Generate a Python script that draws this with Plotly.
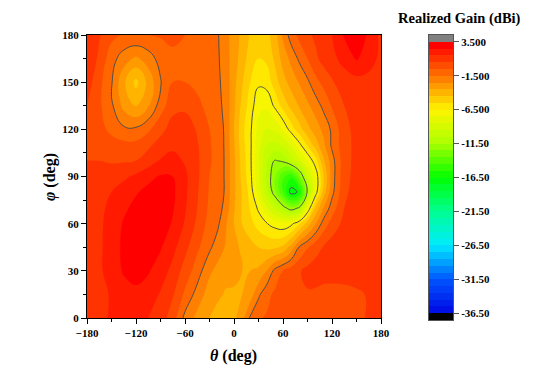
import plotly.graph_objects as go

# ---------------- data ----------------
THETA = [-180, -165, -150, -135, -120, -105, -90, -75, -60, -45, -30,
         -20, -10, 0, 10, 20, 30, 40, 50, 60, 70, 80, 90, 100, 110, 120,
         135, 150, 165, 180]
PHI = [0, 15, 30, 45, 60, 70, 80, 90, 100, 110, 120, 135, 150, 165, 180]

# realized gain (dBi), one row per PHI value, columns follow THETA
GAIN_PHI_0 = [1.0, 1.3, 1.6, 1.7, 1.8, 1.5, 1.0, 0.0, -1.8, -2.8, -3.5,
              -3.9, -4.0, -3.7, -2.9, -1.3, -0.6, -0.4, -0.3, -0.2, -0.1, 0.0, 0.0, 0.0, -0.1, -0.2,
              -0.1, 0.3, 0.6, 0.8]
GAIN_PHI_15 = [1.0, 1.2, 1.6, 2.1, 2.3, 2.0, 1.4, 0.6, -0.7, -1.9, -3.0,
               -3.3, -3.6, -3.6, -3.5, -3.0, -1.7, -0.8, -0.3, 0.1, 0.3, 0.4, 0.4, 0.3, 0.1, 0.0,
               0.0, 0.3, 0.6, 0.8]
GAIN_PHI_30 = [1.0, 1.3, 2.0, 2.6, 2.8, 2.6, 2.0, 1.2, 0.1, -1.0, -2.3,
               -2.8, -3.2, -3.3, -3.5, -3.5, -3.3, -2.5, -1.2, -0.5, 0.0, 0.4, 0.8, 1.0, 1.0, 1.1,
               1.2, 1.1, 1.0, 1.0]
GAIN_PHI_45 = [1.0, 1.3, 2.0, 2.7, 3.1, 3.1, 2.6, 1.8, 0.8, -0.3, -1.3,
               -2.0, -2.6, -3.2, -3.7, -4.1, -4.5, -4.7, -4.7, -4.3, -3.1, -1.4, -0.6, 0.1, 0.6, 1.0,
               1.3, 1.3, 1.2, 1.0]
GAIN_PHI_60 = [0.9, 1.3, 1.9, 2.6, 3.1, 3.2, 3.0, 2.4, 1.4, 0.3, -0.9,
               -1.3, -2.4, -3.5, -4.5, -5.2, -5.9, -6.45, -6.9, -7.2, -6.8, -5.6, -4.0, -2.5, -1.0, -0.1,
               0.8, 1.1, 1.1, 0.9]
GAIN_PHI_70 = [0.85, 1.2, 1.8, 2.3, 2.8, 3.1, 3.1, 2.6, 1.6, 0.5, -0.7,
               -1.0, -1.9, -3.4, -4.6, -5.6, -6.7, -8.3, -9.8, -11.0, -12.2, -11.3, -7.5, -4.3, -2.4, -1.0,
               0.5, 0.9, 1.0, 0.9]
GAIN_PHI_80 = [0.7, 1.0, 1.5, 2.0, 2.4, 2.8, 3.0, 2.7, 1.7, 0.6, -0.6,
               -0.8, -1.7, -3.3, -4.6, -5.9, -7.9, -10.2, -12.1, -14.5, -17.0, -16.3, -11.2, -7.0, -3.9, -1.8,
               0.3, 0.9, 1.0, 0.9]
GAIN_PHI_90 = [0.6, 0.8, 1.0, 1.3, 1.7, 2.2, 2.6, 2.5, 1.7, 0.7, -0.5,
               -0.8, -1.7, -3.3, -4.8, -6.2, -8.3, -10.6, -12.4, -14.3, -15.3, -13.0, -9.6, -7.2, -4.4, -2.0,
               0.2, 0.8, 1.0, 0.8]
GAIN_PHI_100 = [0.5, 0.5, 0.4, 0.4, 0.5, 1.0, 1.6, 1.8, 1.4, 0.7, -0.4,
                -0.8, -1.7, -3.3, -4.9, -6.3, -8.4, -10.3, -11.6, -11.3, -10.2, -8.9, -7.4, -5.9, -3.6, -1.9,
                0.1, 0.8, 1.0, 0.8]
GAIN_PHI_110 = [0.5, 0.3, 0.0, -0.2, -0.2, 0.3, 0.9, 1.3, 1.2, 0.6, -0.4,
                -0.9, -1.7, -3.4, -5.1, -6.3, -8.2, -9.5, -9.8, -9.4, -8.3, -6.8, -5.4, -4.0, -2.7, -1.3,
                0.1, 0.8, 1.0, 0.9]
GAIN_PHI_120 = [0.3, -0.1, -0.8, -1.3, -1.3, -0.7, 0.2, 0.9, 1.0, 0.4, -0.5,
                -1.0, -1.7, -3.5, -5.2, -6.3, -7.9, -8.6, -8.3, -7.4, -6.0, -4.9, -3.8, -3.0, -2.2, -1.3,
                0.2, 0.8, 1.0, 1.0]
GAIN_PHI_135 = [0.5, -0.3, -1.3, -2.8, -3.6, -2.6, -1.0, 0.2, 0.3, -0.2, -0.9,
                -1.2, -1.8, -3.3, -4.8, -6.0, -7.2, -7.3, -6.3, -5.1, -4.2, -3.4, -2.7, -2.0, -1.2, -0.4,
                0.5, 1.0, 1.1, 1.0]
GAIN_PHI_150 = [1.0, -0.2, -1.4, -3.3, -4.8, -3.2, -1.6, -0.5, -0.5, -0.8, -1.1,
                -1.3, -1.9, -3.2, -4.4, -5.5, -6.3, -6.1, -5.0, -3.9, -3.1, -2.4, -1.7, -0.8, -0.2, 0.4,
                0.9, 1.1, 1.1, 1.0]
GAIN_PHI_165 = [1.3, 0.3, -1.1, -2.0, -2.7, -2.0, -1.1, -0.6, -0.6, -0.9, -1.2,
                -1.35, -2.1, -3.0, -4.0, -5.0, -5.5, -5.3, -4.3, -3.1, -2.2, -1.3, -0.5, 0.3, 0.9, 1.2,
                1.9, 2.6, 2.0, 1.2]
GAIN_PHI_180 = [1.5, 0.6, -0.2, -0.6, -0.5, -0.5, -0.4, -0.4, -0.5, -0.8, -1.1,
                -1.4, -2.2, -2.9, -3.8, -4.6, -4.9, -4.8, -4.0, -2.3, -1.0, -0.2, 0.3, 0.7, 1.1, 1.5,
                2.6, 2.9, 2.4, 1.2]

GAIN = [GAIN_PHI_0, GAIN_PHI_15, GAIN_PHI_30, GAIN_PHI_45, GAIN_PHI_60,
        GAIN_PHI_70, GAIN_PHI_80, GAIN_PHI_90, GAIN_PHI_100, GAIN_PHI_110,
        GAIN_PHI_120, GAIN_PHI_135, GAIN_PHI_150, GAIN_PHI_165, GAIN_PHI_180]

X_TICK0, X_DTICK, X_MINOR = -180, 60, 30
Y_TICK0, Y_DTICK, Y_MINOR = 0, 30, 15
CBAR_TICKS = [3.5, -1.5, -6.5, -11.5, -16.5, -21.5, -26.5, -31.5, -36.5]
CBAR_TICKTEXT = ["3.500", "-1.500", "-6.500", "-11.50", "-16.50",
                 "-21.50", "-26.50", "-31.50", "-36.50"]

FILL_START, FILL_END, FILL_STEP = -36.5, 3.5, 1.0
LINE_START, LINE_END, LINE_STEP = -16.5, -1.5, 5.0

# ---------------- styling ----------------
RAMP = [(-37.0, (0, 0, 225)), (-31.5, (0, 85, 255)), (-26.5, (0, 235, 255)),
        (-21.5, (0, 255, 145)), (-16.5, (0, 255, 0)), (-11.5, (170, 255, 0)),
        (-6.5, (255, 245, 0)), (-1.5, (255, 115, 0)), (3.0, (255, 0, 0)),
        (4.0, (255, 0, 0))]


def rgb(c):
    return "rgb(%d,%d,%d)" % c


def color_at(v):
    for (v0, c0), (v1, c1) in zip(RAMP[:-1], RAMP[1:]):
        if v0 <= v <= v1:
            f = (v - v0) / (v1 - v0)
            return tuple(round(a + (b - a) * f) for a, b in zip(c0, c1))
    return RAMP[-1][1] if v > RAMP[-1][0] else RAMP[0][1]


lo = FILL_START - FILL_STEP / 2
hi = FILL_END + FILL_STEP / 2
contour_scale = [[(v - lo) / (hi - lo), rgb(c)] for v, c in RAMP]

SERIF = "Liberation Serif"
TICKFONT = dict(family=SERIF, size=11, color="black", weight="bold")
SMOOTH = 1.3

fig = go.Figure()

fig.add_trace(go.Contour(
    x=THETA, y=PHI, z=GAIN,
    autocontour=False,
    contours=dict(start=FILL_START, end=FILL_END, size=FILL_STEP,
                  coloring="fill", showlines=False),
    colorscale=contour_scale,
    line=dict(smoothing=SMOOTH, width=0),
    showscale=False, hoverinfo="skip",
    xaxis="x", yaxis="y",
))

fig.add_trace(go.Contour(
    x=THETA, y=PHI, z=GAIN,
    autocontour=False,
    contours=dict(start=LINE_START, end=LINE_END, size=LINE_STEP,
                  coloring="none", showlines=True),
    line=dict(color="#4d4d4d", width=1, smoothing=SMOOTH),
    showscale=False, hoverinfo="skip",
    xaxis="x", yaxis="y",
))

# manual colour bar: one cell per filled band, plus the over/under blocks
cb_lo = FILL_START - FILL_STEP
cb_hi = FILL_END + FILL_STEP
n_cells = int(round((FILL_END - FILL_START) / FILL_STEP)) + 2
cb_centers = [FILL_START - FILL_STEP / 2 + i * FILL_STEP for i in range(n_cells)]


def t2(v):
    return (v - cb_lo) / (cb_hi - cb_lo)


cb_scale = [[0.0, "rgb(0,0,0)"], [t2(FILL_START), "rgb(0,0,0)"],
            [t2(FILL_START), rgb(color_at(FILL_START))]]
for v, c in RAMP:
    if FILL_START < v < FILL_END:
        cb_scale.append([t2(v), rgb(c)])
cb_scale += [[t2(FILL_END), rgb(color_at(FILL_END))],
             [t2(FILL_END), "rgb(128,128,128)"], [1.0, "rgb(128,128,128)"]]

fig.add_trace(go.Heatmap(
    x=[0], y=cb_centers, z=[[v] for v in cb_centers],
    zmin=cb_lo, zmax=cb_hi, colorscale=cb_scale, showscale=False,
    hoverinfo="skip", xaxis="x2", yaxis="y2",
))

# page places the figure 8px in from the top-left corner
OX, OY = 8, 8
W, H = 554 - OX, 375 - OY
ML, MT = 87 - OX, 35 - OY
MR = W - (453 - OX)
MB = H - (320 - OY)
PW = W - ML - MR
PH = H - MT - MB


def px_x(p):
    return (p - OX - ML) / PW


def px_y(p):
    return (H - MB - (p - OY)) / PH


fig.update_layout(
    width=W, height=H,
    margin=dict(l=ML, r=MR, t=MT, b=MB, pad=0),
    paper_bgcolor="white", plot_bgcolor="white",
    showlegend=False,
    xaxis=dict(domain=[0, px_x(381)], range=[-180, 180], tick0=X_TICK0, dtick=X_DTICK,
               ticks="outside", ticklen=5, tickwidth=1, tickcolor="black",
               minor=dict(ticks="outside", ticklen=3, tick0=X_TICK0, dtick=X_MINOR,
                          tickcolor="black"),
               showline=True, mirror=True, linecolor="black", linewidth=1,
               showgrid=False, zeroline=False, tickfont=TICKFONT,
               anchor="y"),
    yaxis=dict(domain=[px_y(318), 1], range=[0, 180], tick0=Y_TICK0, dtick=Y_DTICK,
               ticks="outside", ticklen=5, tickwidth=1, tickcolor="black",
               minor=dict(ticks="outside", ticklen=3, tick0=Y_TICK0, dtick=Y_MINOR,
                          tickcolor="black"),
               showline=True, mirror=True, linecolor="black", linewidth=1,
               showgrid=False, zeroline=False, tickfont=TICKFONT,
               anchor="x"),
    xaxis2=dict(domain=[px_x(429), 1], range=[-0.5, 0.5],
                showticklabels=False, ticks="", showgrid=False, zeroline=False,
                showline=True, mirror=True, linecolor="#555555", linewidth=1,
                anchor="y2"),
    yaxis2=dict(domain=[0, 1], range=[cb_lo, cb_hi], side="right",
                tickmode="array", tickvals=CBAR_TICKS, ticktext=CBAR_TICKTEXT,
                ticks="outside", ticklen=5, tickcolor="#555555",
                showgrid=False, zeroline=False, showline=True, mirror=True,
                linecolor="#555555", linewidth=1, tickfont=TICKFONT,
                anchor="x2"),
    annotations=[
        dict(text="<b><i>θ</i> (deg)</b>", xref="paper", yref="paper",
             x=px_x(233), y=px_y(356), showarrow=False, xanchor="center",
             yanchor="middle", font=dict(family=SERIF, size=16, color="black")),
        dict(text="<b><i>φ</i> (deg)</b>", xref="paper", yref="paper",
             x=px_x(50), y=px_y(177), showarrow=False, xanchor="center",
             yanchor="middle", textangle=-90,
             font=dict(family=SERIF, size=16, color="black")),
        dict(text="<b>Realized Gain (dBi)</b>", xref="paper", yref="paper",
             x=px_x(460), y=px_y(18), showarrow=False, xanchor="center",
             yanchor="middle", font=dict(family=SERIF, size=14.5, color="black")),
    ],
)

fig.write_html("out.html")
